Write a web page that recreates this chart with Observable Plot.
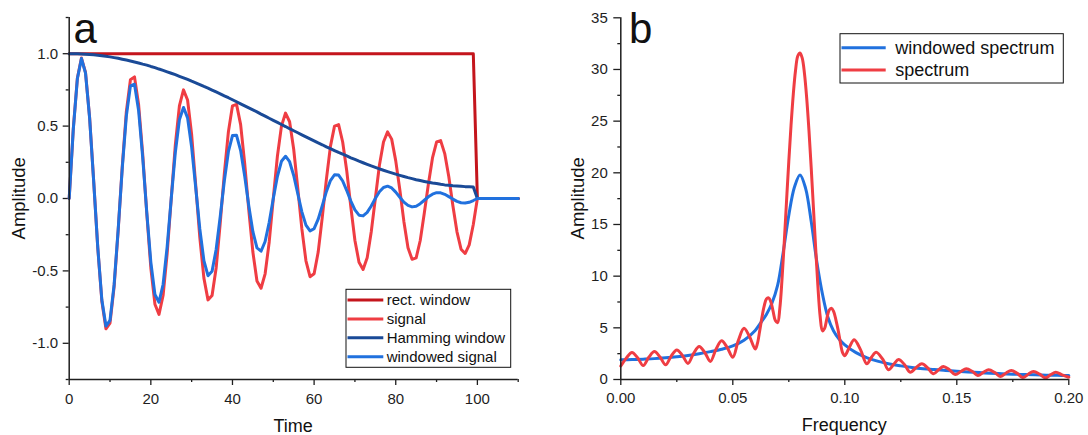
<!DOCTYPE html>
<html>
<head>
<meta charset="utf-8">
<script src="https://cdn.jsdelivr.net/npm/d3@7"></script>
<script src="https://cdn.jsdelivr.net/npm/@observablehq/plot@0.6"></script>
<style>
  html, body { margin: 0; padding: 0; background: #fff; }
  #wrap { position: relative; width: 1088px; height: 435px; overflow: hidden; background: #fff; }
  #left, #right { position: absolute; top: 0; }
  #left { left: 0; }
  #right { left: 544px; }
  #overlay { position: absolute; left: 0; top: 0; pointer-events: none; }
</style>
</head>
<body>
<div id="wrap">
  <div id="left"></div>
  <div id="right"></div>
  <svg id="overlay" width="1088" height="435"></svg>
</div>
<script>
// ---------- Panel a: time domain ----------
const time = [0,1,2,3,4,5,6,7,8,9,10,11,12,13,14,15,16,17,18,19,20,21,22,23,24,25,26,27,28,29,30,31,32,33,34,35,36,37,38,39,40,41,42,43,44,45,46,47,48,49,50,51,52,53,54,55,56,57,58,59,60,61,62,63,64,65,66,67,68,69,70,71,72,73,74,75,76,77,78,79,80,81,82,83,84,85,86,87,88,89,90,91,92,93,94,95,96,97,98,99,100,101,102,103,104,105,106,107,108,109,110];

const signal = [0,0.48,0.83,0.97,0.87,0.56,0.12,-0.34,-0.71,-0.90,-0.86,-0.61,-0.22,0.22,0.60,0.82,0.84,0.65,0.31,-0.10,-0.48,-0.73,-0.80,-0.67,-0.38,
0,0.37,0.64,0.75,0.68,0.44,0.09,-0.27,-0.55,-0.70,-0.67,-0.48,-0.17,0.17,0.46,0.64,0.65,0.51,0.24,-0.08,-0.37,-0.57,-0.62,-0.52,-0.30,
0,0.29,0.50,0.59,0.53,0.34,0.07,-0.21,-0.43,-0.54,-0.52,-0.37,-0.13,0.13,0.36,0.50,0.51,0.39,0.19,-0.06,-0.29,-0.44,-0.49,-0.41,-0.23,
0,0.23,0.39,0.46,0.41,0.26,0.06,-0.16,-0.34,-0.42,-0.41,-0.29,-0.10,0.10,0.28,0.39,0.40,0.31,0.15,-0.05,-0.23,-0.35,-0.38,-0.32,-0.18,
0,0,0,0,0,0,0,0,0,0,0];

const hamming = [1.000,1.000,0.999,0.998,0.996,0.994,0.992,0.989,0.986,0.982,
0.978,0.973,0.968,0.962,0.956,0.950,0.943,0.936,0.928,0.921,
0.912,0.904,0.894,0.885,0.875,0.865,0.855,0.844,0.833,0.822,
0.810,0.799,0.787,0.774,0.762,0.749,0.736,0.723,0.709,0.696,
0.682,0.668,0.654,0.640,0.626,0.612,0.598,0.583,0.569,0.554,
0.540,0.526,0.511,0.497,0.482,0.468,0.454,0.440,0.426,0.412,
0.398,0.384,0.371,0.357,0.344,0.331,0.318,0.306,0.294,0.281,
0.270,0.258,0.247,0.236,0.225,0.215,0.205,0.195,0.186,0.177,
0.168,0.160,0.152,0.144,0.137,0.130,0.124,0.118,0.112,0.107,
0.103,0.098,0.094,0.091,0.088,0.086,0.084,0.082,0.081,0.080,
0,0,0,0,0,0,0,0,0,0,0];

const windowedSignal = [0,0.477,0.827,0.967,0.866,0.556,0.117,-0.339,-0.701,-0.881,-0.841,-0.597,-0.214,0.210,0.569,0.778,0.789,0.608,0.286,-0.095,-0.439,-0.663,-0.716,-0.594,-0.332,
0,0.318,0.544,0.629,0.557,0.353,0.073,-0.210,-0.429,-0.533,-0.502,-0.352,-0.124,0.121,0.323,0.435,0.436,0.331,0.153,-0.051,-0.229,-0.341,-0.364,-0.297,-0.164,
0,0.152,0.257,0.292,0.254,0.159,0.033,-0.092,-0.184,-0.224,-0.208,-0.143,-0.050,0.047,0.124,0.164,0.162,0.121,0.055,-0.018,-0.079,-0.115,-0.120,-0.096,-0.052,
0,0.046,0.076,0.085,0.073,0.044,0.009,-0.025,-0.048,-0.058,-0.053,-0.036,-0.012,0.012,0.030,0.040,0.039,0.029,0.013,-0.004,-0.020,-0.029,-0.031,-0.026,-0.014,
0,0,0,0,0,0,0,0,0,0,0];

const rectTime = [0, 99, 100, 110];
const rectWindow = [1, 1, 0, 0];

const timeTicks = [0, 20, 40, 60, 80, 100];
const timeMinorTicks = [10, 30, 50, 70, 90, 110];
const ampTicks = [-1, -0.5, 0, 0.5, 1];
const ampMinorTicks = [-1.25, -0.75, -0.25, 0.25, 0.75, 1.25];

// ---------- Panel b: frequency domain ----------
const specFreq = [0,0.0025,0.005,0.0075,0.01,0.0125,0.015,0.0175,0.02,0.0225,0.025,0.0275,0.03,0.0325,0.035,0.0375,0.04,0.0425,0.045,0.0475,0.05,0.0525,0.055,0.0575,0.06,
0.061,0.062,0.063,0.064,0.065,0.066,0.067,0.068,0.069,0.070,0.071,0.072,0.073,0.074,0.075,0.076,0.077,0.078,0.079,0.080,
0.081,0.082,0.083,0.084,0.085,0.086,0.087,0.088,0.089,0.090,0.091,0.092,0.093,0.094,0.095,0.096,0.097,0.098,0.099,0.100,
0.102,0.1042,0.107,0.1098,0.112,0.114,0.117,0.1195,0.122,0.124,0.1267,0.1292,0.132,0.1344,0.137,0.1396,0.142,0.144,0.1467,0.1493,
0.152,0.1542,0.157,0.1594,0.162,0.1642,0.167,0.1694,0.172,0.1743,0.177,0.1795,0.182,0.1842,0.187,0.1895,0.192,0.1942,0.197,0.2];
const spectrum = [1.30,2.08,2.62,2.10,1.35,2.15,2.70,2.18,1.42,2.27,2.86,2.33,1.56,2.53,3.20,2.61,1.75,2.93,3.75,3.09,2.15,3.80,4.95,4.13,2.95,
3.5,4.7,6.0,7.1,7.8,7.9,7.5,6.6,5.7,5.5,6.9,9.8,13.4,17.3,21.1,24.6,27.6,29.9,31.3,31.6,
31.1,29.6,27.2,24.1,20.5,16.6,12.7,9.0,6.1,4.7,4.95,5.9,6.7,6.9,6.6,5.8,4.8,3.6,2.6,2.3,
3.1,3.84,2.89,1.52,2.18,2.64,1.94,0.94,1.52,1.93,1.43,0.71,1.19,1.52,1.12,0.55,0.97,1.26,0.94,0.48,
0.80,1.03,0.77,0.39,0.71,0.94,0.67,0.29,0.63,0.87,0.59,0.19,0.53,0.77,0.52,0.16,0.48,0.71,0.45,0.22];

const winFreq = [0,0.005,0.01,0.015,0.02,0.025,0.03,0.035,0.04,0.045,0.05,0.055,0.06,0.0625,0.065,0.0675,0.07,0.0725,0.075,0.0775,0.08,
0.0825,0.085,0.0875,0.09,0.0925,0.095,0.0975,0.1,0.105,0.11,0.115,0.12,0.125,0.13,0.135,0.14,0.145,0.15,0.155,0.16,0.165,0.17,0.175,0.18,0.185,0.19,0.195,0.2];
const windowedSpectrum = [1.90,1.93,1.97,2.02,2.10,2.20,2.33,2.50,2.70,2.93,3.25,3.80,4.75,5.5,6.3,7.4,9.1,12.3,15.9,18.6,19.8,
18.5,15.3,11.4,8.3,6.0,4.7,3.9,3.35,2.6,2.1,1.75,1.5,1.32,1.17,1.05,0.96,0.88,0.80,0.73,0.67,0.61,0.56,0.52,0.48,0.45,0.42,0.40,0.38];

const freqTicks = [0, 0.05, 0.1, 0.15, 0.2];
const freqMinorTicks = [0.025, 0.075, 0.125, 0.175];
const specTicks = [0, 5, 10, 15, 20, 25, 30, 35];
const specMinorTicks = [2.5, 7.5, 12.5, 17.5, 22.5, 27.5, 32.5];

// ---------- Styles ----------
const C = {
  rect: "#c4151c",
  signal: "#ef3d43",
  hamming: "#1a4a97",
  windowed: "#2171de",
  axis: "#1e1e1e"
};
const FONT = "'Liberation Sans', Arial, Helvetica, sans-serif";

const seriesA = [
  {name: "rect. window", color: C.rect},
  {name: "signal", color: C.signal},
  {name: "Hamming window", color: C.hamming},
  {name: "windowed signal", color: C.windowed}
];
const seriesB = [
  {name: "windowed spectrum", color: C.windowed},
  {name: "spectrum", color: C.signal}
];

// tables
const sigTable = time.map((t, i) => ({t, v: signal[i]}));
const hamTable = time.map((t, i) => ({t, v: hamming[i]}));
const winTable = time.map((t, i) => ({t, v: windowedSignal[i]}));
const rectTable = rectTime.map((t, i) => ({t, v: rectWindow[i]}));
const specTable = specFreq.map((f, i) => ({f, a: spectrum[i]}));
const winSpecTable = winFreq.map((f, i) => ({f, a: windowedSpectrum[i]}));

const lineOpts = {strokeWidth: 3, strokeLinejoin: "round", strokeLinecap: "round"};

const plotA = Plot.plot({
  width: 544,
  height: 435,
  marginLeft: 68.7,
  marginRight: 26.3,
  marginTop: 17,
  marginBottom: 56,
  style: {fontFamily: FONT, fontSize: "15px", color: C.axis, background: "transparent", overflow: "visible"},
  x: {domain: [0, 110]},
  y: {domain: [-1.25, 1.25]},
  marks: [
    Plot.axisX(timeTicks, {tickSize: 6, tickPadding: 8, tickFormat: d => String(d), label: null, strokeWidth: 1.3, fontSize: 15}),
    Plot.axisX(timeMinorTicks, {tickSize: 3, tickFormat: () => "", label: null, strokeWidth: 1.3}),
    Plot.axisY(ampTicks, {tickSize: 6, tickPadding: 5, tickFormat: d => d.toFixed(1), label: null, strokeWidth: 1.3, fontSize: 15}),
    Plot.axisY(ampMinorTicks, {tickSize: 3, tickFormat: () => "", label: null, strokeWidth: 1.3}),
    Plot.line(rectTable, {x: "t", y: "v", stroke: C.rect, ...lineOpts}),
    Plot.line(sigTable, {x: "t", y: "v", stroke: C.signal, ...lineOpts}),
    Plot.line(hamTable, {x: "t", y: "v", stroke: C.hamming, ...lineOpts}),
    Plot.line(winTable, {x: "t", y: "v", stroke: C.windowed, ...lineOpts}),
    Plot.ruleX([0], {stroke: C.axis, strokeWidth: 1.5}),
    Plot.ruleY([-1.25], {stroke: C.axis, strokeWidth: 1.5})
  ]
});
document.getElementById("left").appendChild(plotA);

const plotB = Plot.plot({
  width: 544,
  height: 435,
  marginLeft: 76.3,
  marginRight: 19.7,
  marginTop: 17.3,
  marginBottom: 56,
  style: {fontFamily: FONT, fontSize: "15px", color: C.axis, background: "transparent", overflow: "visible"},
  x: {domain: [0, 0.2]},
  y: {domain: [0, 35]},
  marks: [
    Plot.axisX(freqTicks, {tickSize: 6, tickPadding: 7, tickFormat: d => d.toFixed(2), label: null, strokeWidth: 1.3, fontSize: 15}),
    Plot.axisX(freqMinorTicks, {tickSize: 3, tickFormat: () => "", label: null, strokeWidth: 1.3}),
    Plot.axisY(specTicks, {tickSize: 7, tickPadding: 6, tickFormat: d => String(d), label: null, strokeWidth: 1.3, fontSize: 15}),
    Plot.axisY(specMinorTicks, {tickSize: 3, tickFormat: () => "", label: null, strokeWidth: 1.3}),
    Plot.line(winSpecTable, {x: "f", y: "a", stroke: C.windowed, curve: "catmull-rom", ...lineOpts}),
    Plot.line(specTable, {x: "f", y: "a", stroke: C.signal, curve: "catmull-rom", ...lineOpts}),
    Plot.ruleX([0], {stroke: C.axis, strokeWidth: 1.5}),
    Plot.ruleY([0], {stroke: C.axis, strokeWidth: 1.5})
  ]
});
document.getElementById("right").appendChild(plotB);

// ---------- Overlay: titles, panel letters, legends ----------
const ov = d3.select("#overlay").attr("font-family", FONT);

function txt(x, y, s, size, anchor, extra) {
  const t = ov.append("text").attr("x", x).attr("y", y).attr("font-size", size)
    .attr("fill", "#111").attr("text-anchor", anchor || "start").text(s);
  if (extra) extra(t);
  return t;
}
txt(73.5, 43, "a", 42);
txt(629, 43, "b", 42);
txt(293.2, 432, "Time", 18, "middle");
txt(844.3, 431, "Frequency", 18, "middle");
ov.append("text").attr("transform", "translate(25,198.3) rotate(-90)")
  .attr("font-size", 18.5).attr("fill", "#111").attr("text-anchor", "middle").text("Amplitude");
ov.append("text").attr("transform", "translate(584,198.3) rotate(-90)")
  .attr("font-size", 18.5).attr("fill", "#111").attr("text-anchor", "middle").text("Amplitude");

function legend(series, box, rows, sw, textX, size) {
  ov.append("rect").attr("x", box[0]).attr("y", box[1]).attr("width", box[2]).attr("height", box[3])
    .attr("fill", "#fff").attr("stroke", "#111").attr("stroke-width", 1);
  series.forEach((s, i) => {
    const y = rows[0] + i * rows[1];
    ov.append("line").attr("x1", sw[0]).attr("x2", sw[1]).attr("y1", y).attr("y2", y)
      .attr("stroke", s.color).attr("stroke-width", 3);
    txt(textX, y + size * 0.33, s.name, size);
  });
}
legend(seriesA, [346, 289.3, 164.7, 78], [300, 18.9], [347.5, 383.3], 386.7, 15);
legend(seriesB, [840, 33.7, 223.3, 49.3], [47.7, 22.3], [841.5, 885.7], 895.3, 18);
</script>
</body>
</html>
